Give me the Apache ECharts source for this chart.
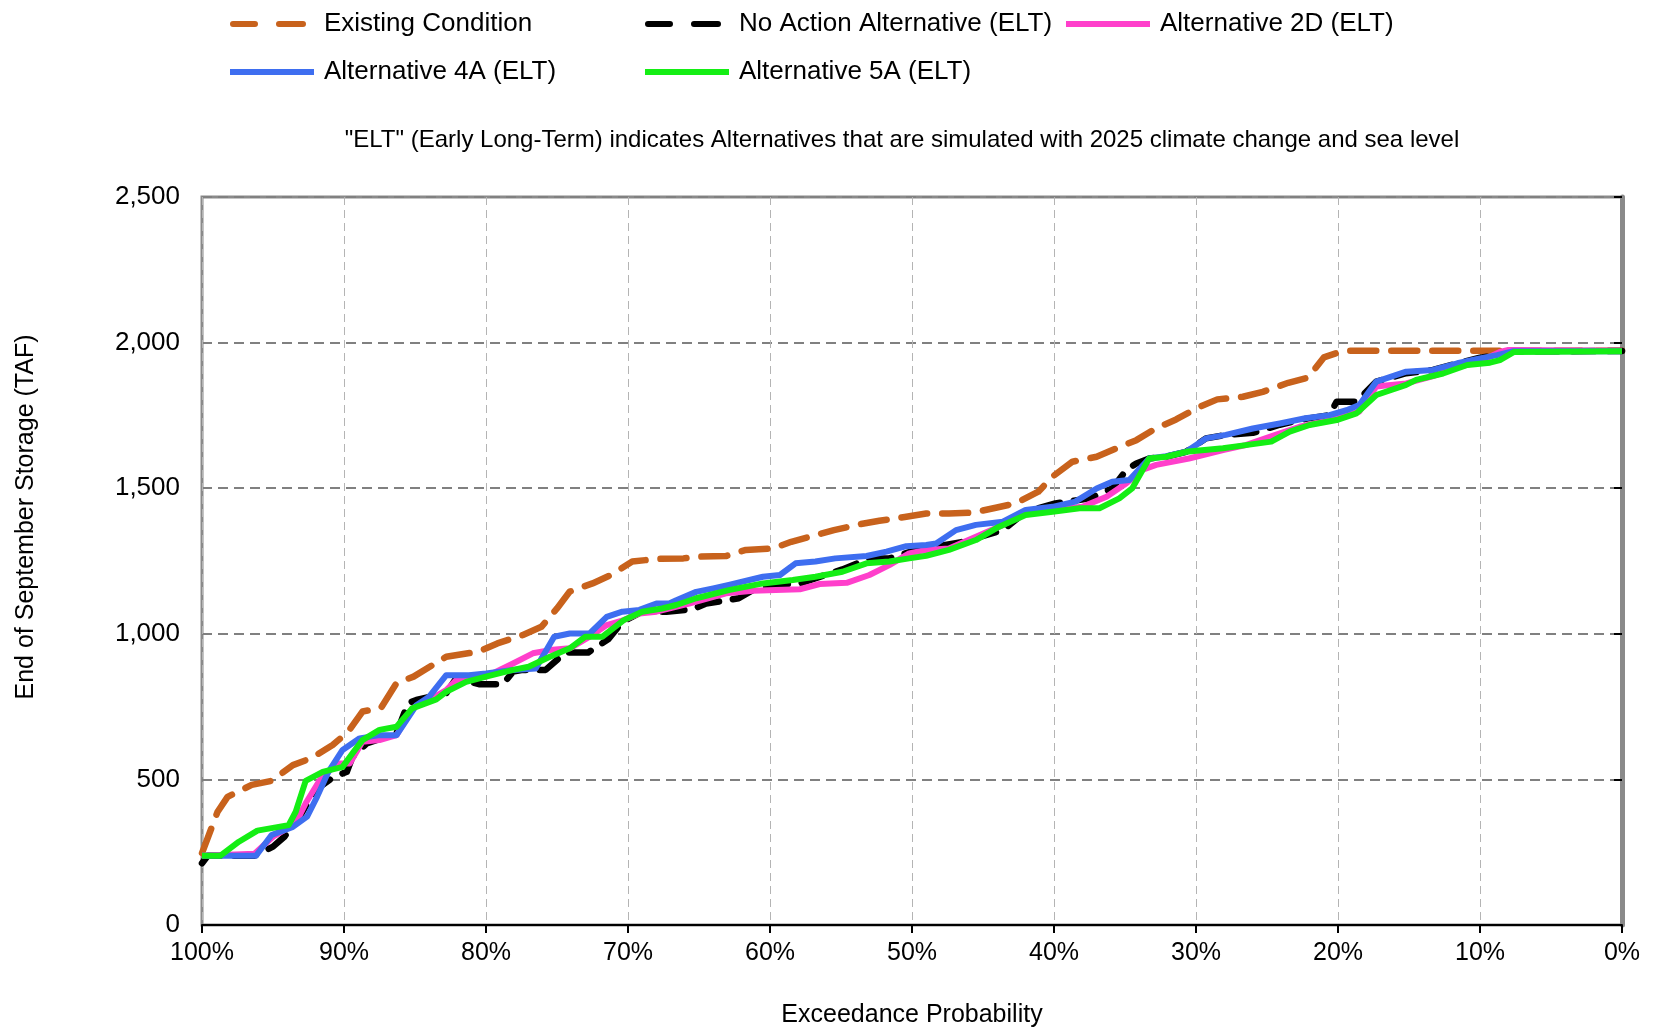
<!DOCTYPE html>
<html>
<head>
<meta charset="utf-8">
<title>End of September Storage</title>
<script src="https://cdn.jsdelivr.net/npm/echarts@6/dist/echarts.min.js"></script>
<style>
html, body { margin: 0; padding: 0; background: #fff; }
#chart { width: 1654px; height: 1034px; }
</style>
</head>
<body>
<div id="chart"></div>
<script>
// exceedance probability (%) , storage (TAF)
var existingCondition = [
    [100,247],[98.9,389],[98.2,440],[96.5,481],[95.1,495],[93.6,549],[92.3,573],[90.8,618],
    [89.7,664],[88.7,733],[87.4,745],[86.3,831],[85.1,853],[82.8,921],[80.5,939],[79.2,967],
    [77.4,996],[76.1,1024],[75.0,1087],[74.1,1145],[72.5,1173],[71.2,1202],[69.7,1248],[68.0,1257],
    [66.1,1259],[65.0,1265],[63.1,1267],[61.7,1288],[59.8,1293],[58.5,1316],[57.0,1336],[55.5,1356],
    [53.7,1376],[52.3,1388],[50.4,1402],[49.0,1413],[47.4,1413],[45.7,1416],[44.1,1433],[42.7,1448],
    [41.1,1488],[40.1,1540],[38.7,1591],[37.0,1608],[35.6,1637],[34.2,1665],[32.8,1706],[31.4,1736],
    [29.8,1778],[28.5,1805],[26.7,1814],[25.3,1831],[23.5,1862],[22.1,1880],[21.0,1949],[19.6,1972],
    [17.8,1972],[12.0,1972],[8.0,1972],[0,1972]
];
var noAction = [
    [100,212],[99.6,238],[96.3,238],[95.0,269],[94.2,303],[93.0,383],[92.0,464],[90.8,506],
    [89.8,526],[89.4,578],[88.4,624],[86.3,658],[85.5,761],[84.9,773],[82.8,796],[82.1,847],
    [80.5,827],[78.8,827],[78.1,870],[77.4,876],[75.8,876],[74.4,936],[72.8,936],[71.4,981],
    [70.4,1041],[69.0,1076],[67.3,1076],[65.4,1085],[64.5,1104],[62.2,1122],[61.2,1150],[59.4,1171],
    [58.0,1171],[56.1,1202],[54.9,1221],[53.0,1259],[51.6,1259],[49.7,1288],[46.4,1316],[43.6,1356],
    [42.0,1419],[39.9,1448],[37.5,1465],[35.9,1499],[34.9,1563],[34.2,1585],[33.3,1602],[32.1,1608],
    [30.7,1625],[29.3,1671],[27.9,1683],[26.0,1690],[24.1,1718],[22.3,1738],[20.6,1751],[20.1,1797],
    [18.7,1797],[17.3,1866],[15.2,1895],[13.3,1906],[11.6,1929],[10.0,1948],[8.8,1957],[7.7,1970],
    [0,1971]
];
var alt2D = [
    [100,238],[96.3,245],[95.0,303],[93.4,349],[92.7,418],[91.7,498],[90.5,555],[89.6,555],
    [88.7,629],[87.5,635],[86.3,652],[85.2,744],[84.0,773],[82.8,807],[82.1,841],[80.0,853],
    [78.1,898],[76.7,933],[75.5,944],[74.1,950],[72.7,990],[71.5,1030],[70.3,1047],[69.2,1070],
    [68.0,1076],[65.7,1104],[63.1,1139],[61.2,1148],[59.6,1150],[57.9,1153],[56.5,1171],[54.6,1175],
    [53.0,1202],[51.6,1236],[50.2,1276],[49.0,1288],[47.4,1293],[45.5,1333],[43.6,1374],[42.0,1413],
    [40.1,1425],[38.0,1436],[36.3,1471],[34.9,1517],[33.8,1563],[32.8,1580],[30.5,1602],[28.1,1631],
    [26.5,1648],[24.4,1683],[22.7,1711],[20.6,1734],[18.5,1763],[17.3,1849],[15.2,1860],[13.3,1885],
    [11.6,1915],[10.0,1935],[8.6,1968],[8.0,1975],[0,1972]
];
var alt4A = [
    [100,238],[96.2,238],[95.1,309],[93.6,337],[92.6,372],[91.9,440],[91.1,526],[90.1,601],
    [88.9,641],[87.5,652],[86.3,652],[85.6,704],[84.9,755],[84.0,784],[82.8,858],[81.2,858],
    [80.0,864],[78.1,876],[76.5,881],[75.2,990],[74.1,1001],[72.7,1001],[71.5,1058],[70.4,1076],
    [69.2,1082],[68.0,1104],[67.1,1104],[66.6,1115],[65.2,1144],[64.0,1156],[62.9,1168],[60.5,1196],
    [59.3,1202],[58.2,1242],[56.8,1248],[55.4,1259],[53.2,1267],[51.8,1282],[50.4,1301],[49.0,1305],
    [48.3,1310],[46.9,1356],[45.5,1374],[43.6,1385],[42.0,1425],[40.1,1436],[38.5,1454],[37.0,1499],
    [35.9,1522],[34.7,1528],[33.3,1602],[32.1,1610],[30.7,1625],[29.3,1671],[27.9,1683],[26.0,1705],
    [24.1,1722],[22.3,1740],[20.6,1751],[19.4,1768],[18.5,1786],[17.3,1866],[15.2,1900],[13.3,1906],
    [11.6,1929],[10.0,1946],[8.8,1957],[7.7,1970],[0,1970]
];
var alt5A = [
    [100,238],[98.7,238],[97.4,286],[96.1,324],[93.9,343],[93.4,389],[92.7,495],[91.5,526],
    [90.1,543],[89.4,590],[88.7,635],[87.5,670],[86.3,681],[85.2,744],[83.5,775],[82.8,801],
    [81.4,835],[80.0,853],[78.1,876],[77.0,887],[75.5,921],[74.1,950],[73.0,990],[71.8,990],
    [70.3,1047],[69.0,1076],[67.6,1087],[66.6,1099],[65.2,1122],[62.9,1150],[60.5,1173],[58.4,1185],
    [56.8,1196],[54.9,1213],[53.2,1242],[51.6,1248],[50.2,1259],[49.0,1268],[47.4,1288],[45.5,1322],
    [43.9,1367],[42.0,1408],[40.1,1419],[38.2,1431],[36.8,1431],[35.4,1465],[34.5,1499],[33.3,1602],
    [32.1,1608],[30.7,1625],[28.1,1637],[26.5,1648],[24.7,1660],[23.4,1694],[22.0,1717],[20.1,1734],
    [18.7,1757],[17.3,1820],[15.2,1855],[14.5,1872],[12.6,1894],[10.9,1923],[9.3,1931],[8.6,1940],
    [7.6,1968],[0,1970]
];

var seriesNames = ['Existing Condition', 'No Action Alternative (ELT)', 'Alternative 2D (ELT)',
    'Alternative 4A (ELT)', 'Alternative 5A (ELT)'];
var seriesData = [existingCondition, noAction, alt2D, alt4A, alt5A];
var seriesColors = ['#C8621C', '#000000', '#FF3FCB', '#3E6EF0', '#14EE14'];
var seriesDash = [[26, 15], [22, 14], 'solid', 'solid', 'solid'];

// legend slots (left, top)
var legendPos = [[230, 11], [645, 11], [1066, 11], [230, 59], [645, 59]];
var dashIcon = 'path://M3,0H25A3,3,0,0,1,25,6H3A3,3,0,0,1,3,0Z M49,0H73A3,3,0,0,1,73,6H49A3,3,0,0,1,49,0Z';
var solidIcon = 'path://M0,0H84V6H0Z';

var FONT = '"Liberation Sans", Arial, sans-serif';

var dom = document.getElementById('chart');
var myChart = echarts.init(dom);

var legends = [];
var series = [];
for (var i = 0; i < seriesNames.length; i++) {
    var dashed = i < 2;
    legends.push({
        data: [{ name: seriesNames[i], icon: dashed ? dashIcon : solidIcon }],
        left: legendPos[i][0],
        top: legendPos[i][1],
        padding: 0,
        itemWidth: dashed ? 76 : 84,
        itemHeight: 6,
        selectedMode: false,
        textStyle: { fontFamily: FONT, fontSize: 26, color: '#000', padding: [0, 0, 0, dashed ? 13 : 5] }
    });
    series.push({
        name: seriesNames[i],
        type: 'line',
        data: seriesData[i],
        symbol: 'none',
        smooth: false,
        z: 2 + i,
        lineStyle: {
            color: seriesColors[i],
            width: dashed ? 6.5 : 6,
            type: seriesDash[i],
            cap: dashed ? 'round' : 'butt',
            join: 'round'
        },
        itemStyle: { color: seriesColors[i] }
    });
}

var option = {
    backgroundColor: '#fff',
    animation: false,
    legend: legends,
    grid: {
        left: 202, right: 32, top: 197, bottom: 109,
        show: true, borderColor: '#8a8a8a', borderWidth: 3
    },
    graphic: [
        {
            type: 'text', x: 902, y: 140,
            style: {
                text: '"ELT" (Early Long-Term) indicates Alternatives that are simulated with 2025 climate change and sea level',
                font: '24px ' + FONT, fill: '#000', align: 'center', verticalAlign: 'middle'
            }
        },
        {
            type: 'text', x: 26, y: 517, rotation: Math.PI / 2,
            style: {
                text: 'End of September Storage (TAF)',
                font: '25px ' + FONT, fill: '#000', align: 'center', verticalAlign: 'middle'
            }
        }
    ],
    xAxis: {
        type: 'value',
        min: 0, max: 100, interval: 10,
        inverse: true,
        name: 'Exceedance Probability',
        nameLocation: 'middle',
        nameGap: 78,
        nameTextStyle: { fontFamily: FONT, fontSize: 25, color: '#000' },
        axisLine: { onZero: false, lineStyle: { color: '#000', width: 2 } },
        axisTick: { show: true, length: 8, lineStyle: { color: '#000', width: 2 } },
        axisLabel: { formatter: '{value}%', margin: 16, fontFamily: FONT, fontSize: 25, color: '#000' },
        splitLine: { show: true, lineStyle: { color: '#b4b4b4', width: 1, type: [8, 5] } }
    },
    yAxis: [{
        type: 'value',
        min: 0, max: 2500, interval: 500,
        axisLine: { show: true, lineStyle: { color: '#000', width: 2 } },
        axisTick: { show: true, length: 8, lineStyle: { color: '#000', width: 2 } },
        axisLabel: {
            margin: 22, fontFamily: FONT, fontSize: 26, color: '#000',
            formatter: function (v) { return v.toLocaleString('en-US'); }
        },
        splitLine: { show: true, lineStyle: { color: '#808080', width: 2, type: [10, 6] } }
    }, {
        // thick grey right border
        type: 'value',
        position: 'right',
        min: 0, max: 2500, interval: 500,
        axisLine: { show: true, lineStyle: { color: '#8a8a8a', width: 5 } },
        axisTick: { show: false },
        axisLabel: { show: false },
        splitLine: { show: false }
    }],
    series: series
};

if (option && typeof option === 'object') {
    myChart.setOption(option);
}
</script>
</body>
</html>
